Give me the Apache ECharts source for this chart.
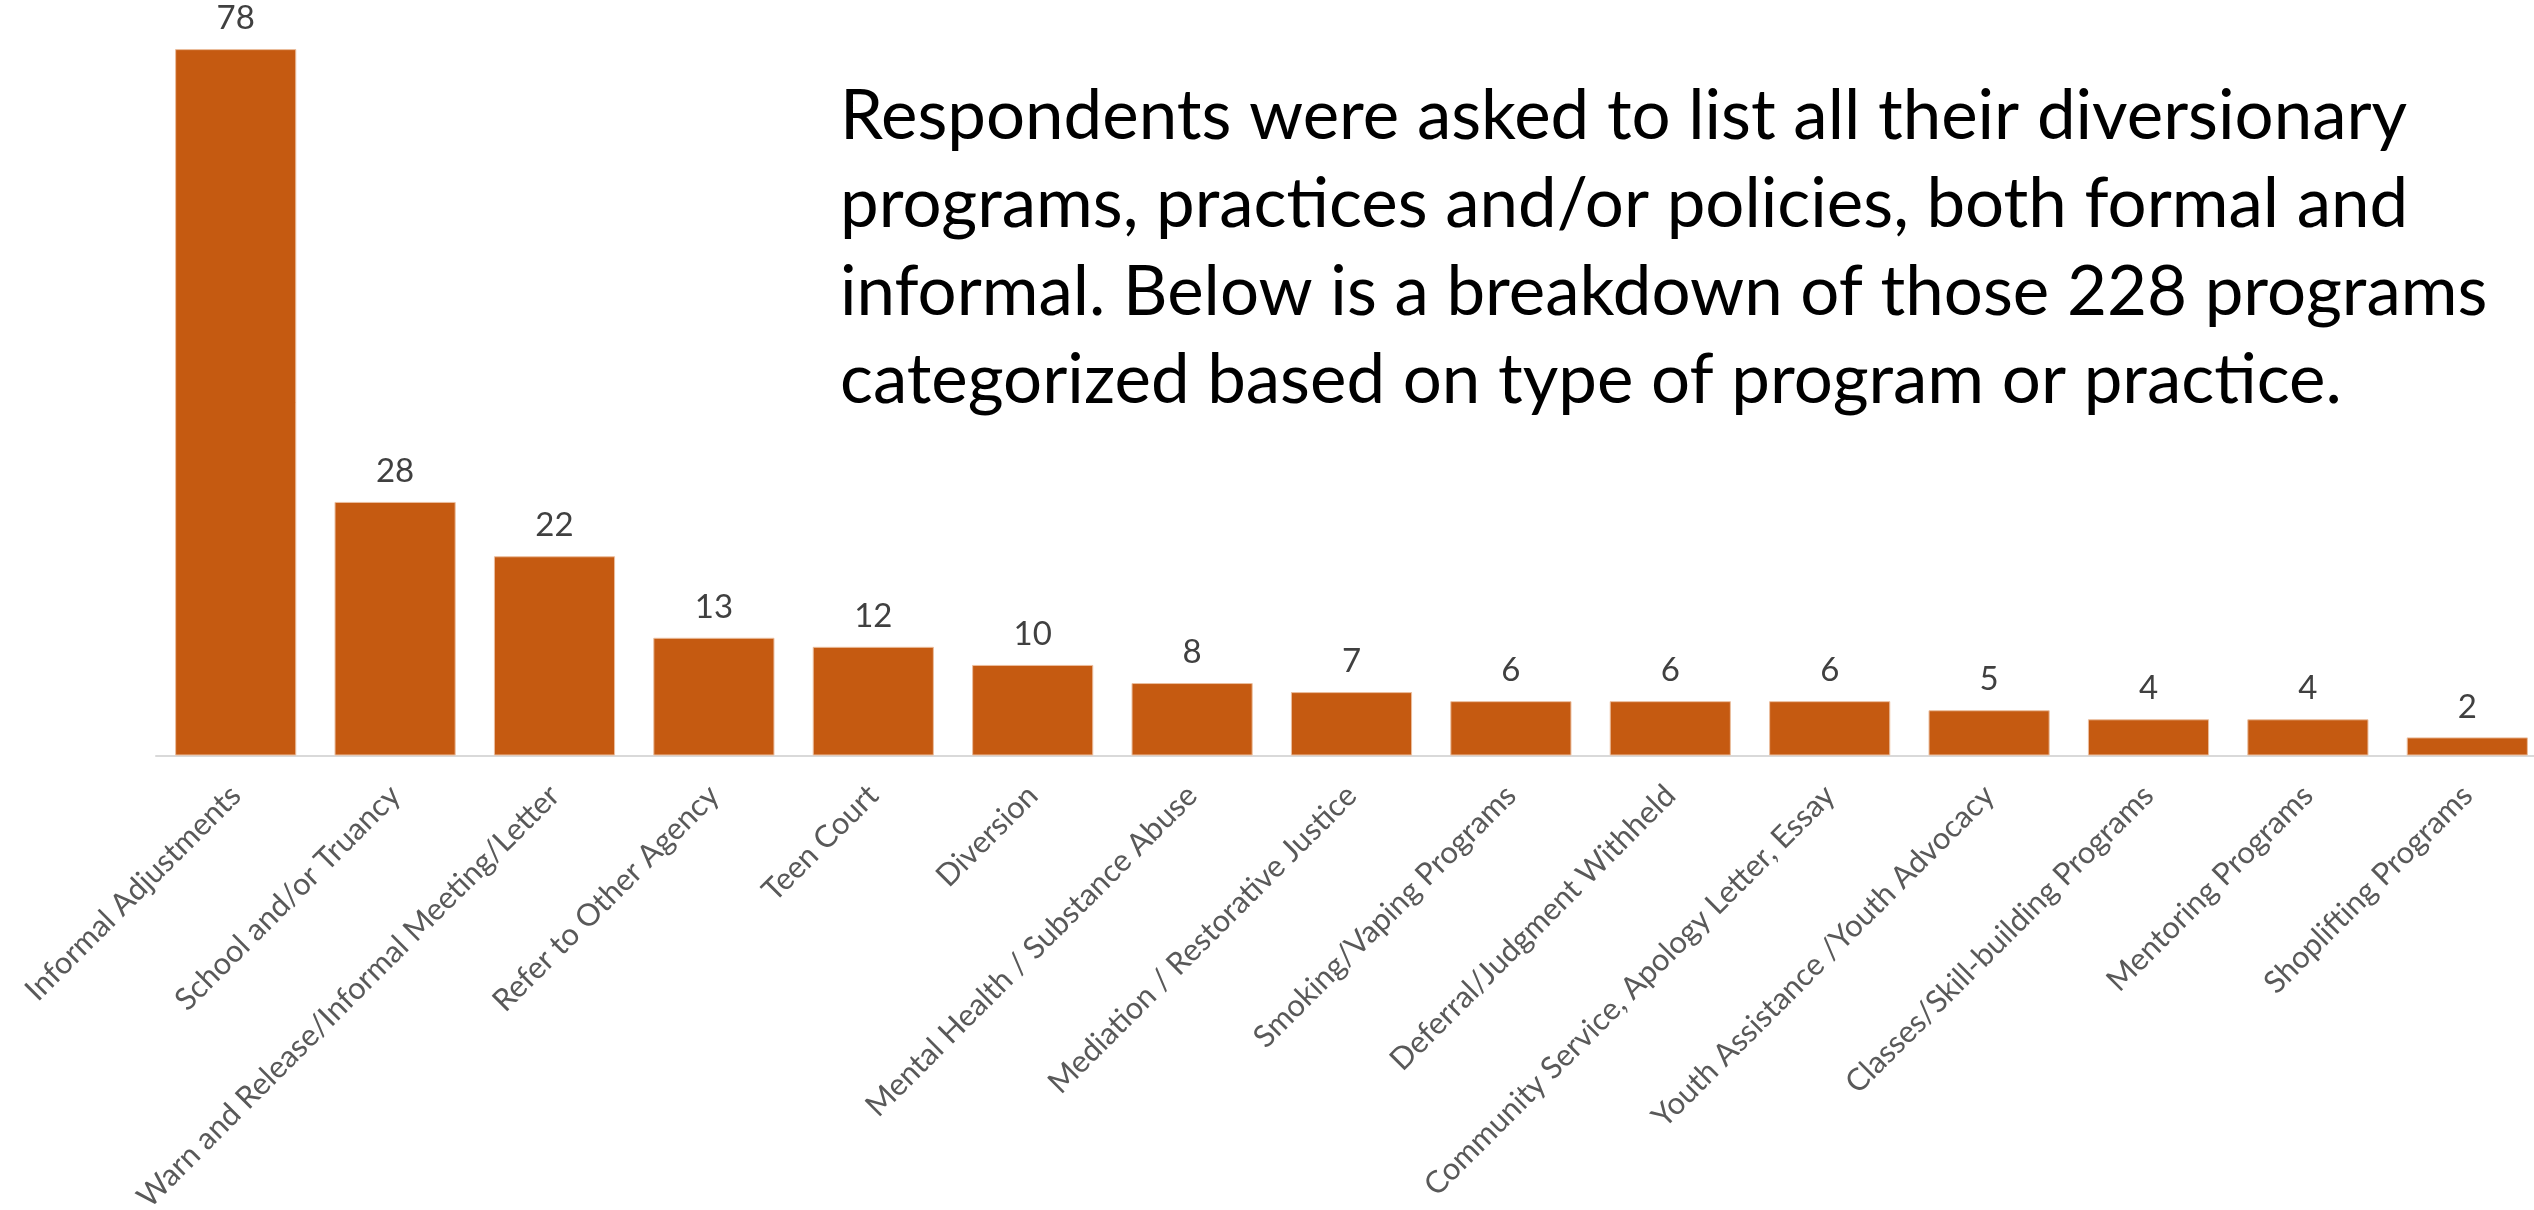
<!DOCTYPE html>
<html><head><meta charset="utf-8">
<script src="https://cdn.jsdelivr.net/npm/echarts@6/dist/echarts.min.js"></script>
<style>html,body{margin:0;padding:0;background:#fff;overflow:hidden}#c{width:2534px;height:1210px}</style>
</head><body><div id="c"></div>
<script>
const categories = [
  'Informal Adjustments',
  'School and/or Truancy',
  'Warn and Release/Informal Meeting/Letter',
  'Refer to Other Agency',
  'Teen Court',
  'Diversion',
  'Mental Health / Substance Abuse',
  'Mediation / Restorative Justice',
  'Smoking/Vaping Programs',
  'Deferral/Judgment Withheld',
  'Community Service, Apology Letter, Essay',
  'Youth Assistance /Youth Advocacy',
  'Classes/Skill-building Programs',
  'Mentoring Programs',
  'Shoplifting Programs'
];
const values = [78, 28, 22, 13, 12, 10, 8, 7, 6, 6, 6, 5, 4, 4, 2];
const titleLines = [
  'Respondents were asked to list all their diversionary',
  'programs, practices and/or policies, both formal and',
  'informal. Below is a breakdown of those 228 programs',
  'categorized based on type of program or practice.'
];

const FONT = 'Lato';
const ctx = document.createElement('canvas').getContext('2d');
function measure(text, size) { ctx.font = size + 'px ' + FONT; return ctx.measureText(text).width; }
const titleSize = Math.round(100 * 1568 / measure(titleLines[0], 100) * 10) / 10;
const labelSize = Math.round(100 * 290 / measure('Informal Adjustments', 100) * 10) / 10;

const chart = echarts.init(document.getElementById('c'));
chart.setOption({
  animation: false,
  backgroundColor: '#ffffff',
  grid: { left: 156, width: 2391, top: 31, bottom: 454.5, containLabel: false, outerBoundsMode: 'none' },
  xAxis: {
    type: 'category',
    data: categories,
    axisLine: { show: true, lineStyle: { color: '#D9D9D9', width: 2 } },
    axisTick: { show: false },
    axisLabel: { rotate: 45, margin: 35, interval: 0, color: '#595959', fontFamily: FONT, fontSize: labelSize, hideOverlap: false }
  },
  yAxis: { type: 'value', min: 0, max: 80, show: false, splitLine: { show: false } },
  series: [{
    type: 'bar',
    data: values,
    barCategoryGap: '24%',
    itemStyle: { color: '#C55A11', borderColor: '#EBBE9E', borderWidth: 1 },
    label: { show: true, position: 'top', distance: 14, color: '#404040', fontFamily: FONT, fontSize: 33 }
  }],
  graphic: [{
    type: 'text', left: 840, top: 73,
    style: { text: titleLines.join('\n'), fontFamily: FONT, fontSize: titleSize, lineHeight: 88, fill: '#000000' }
  }]
});
</script></body></html>
